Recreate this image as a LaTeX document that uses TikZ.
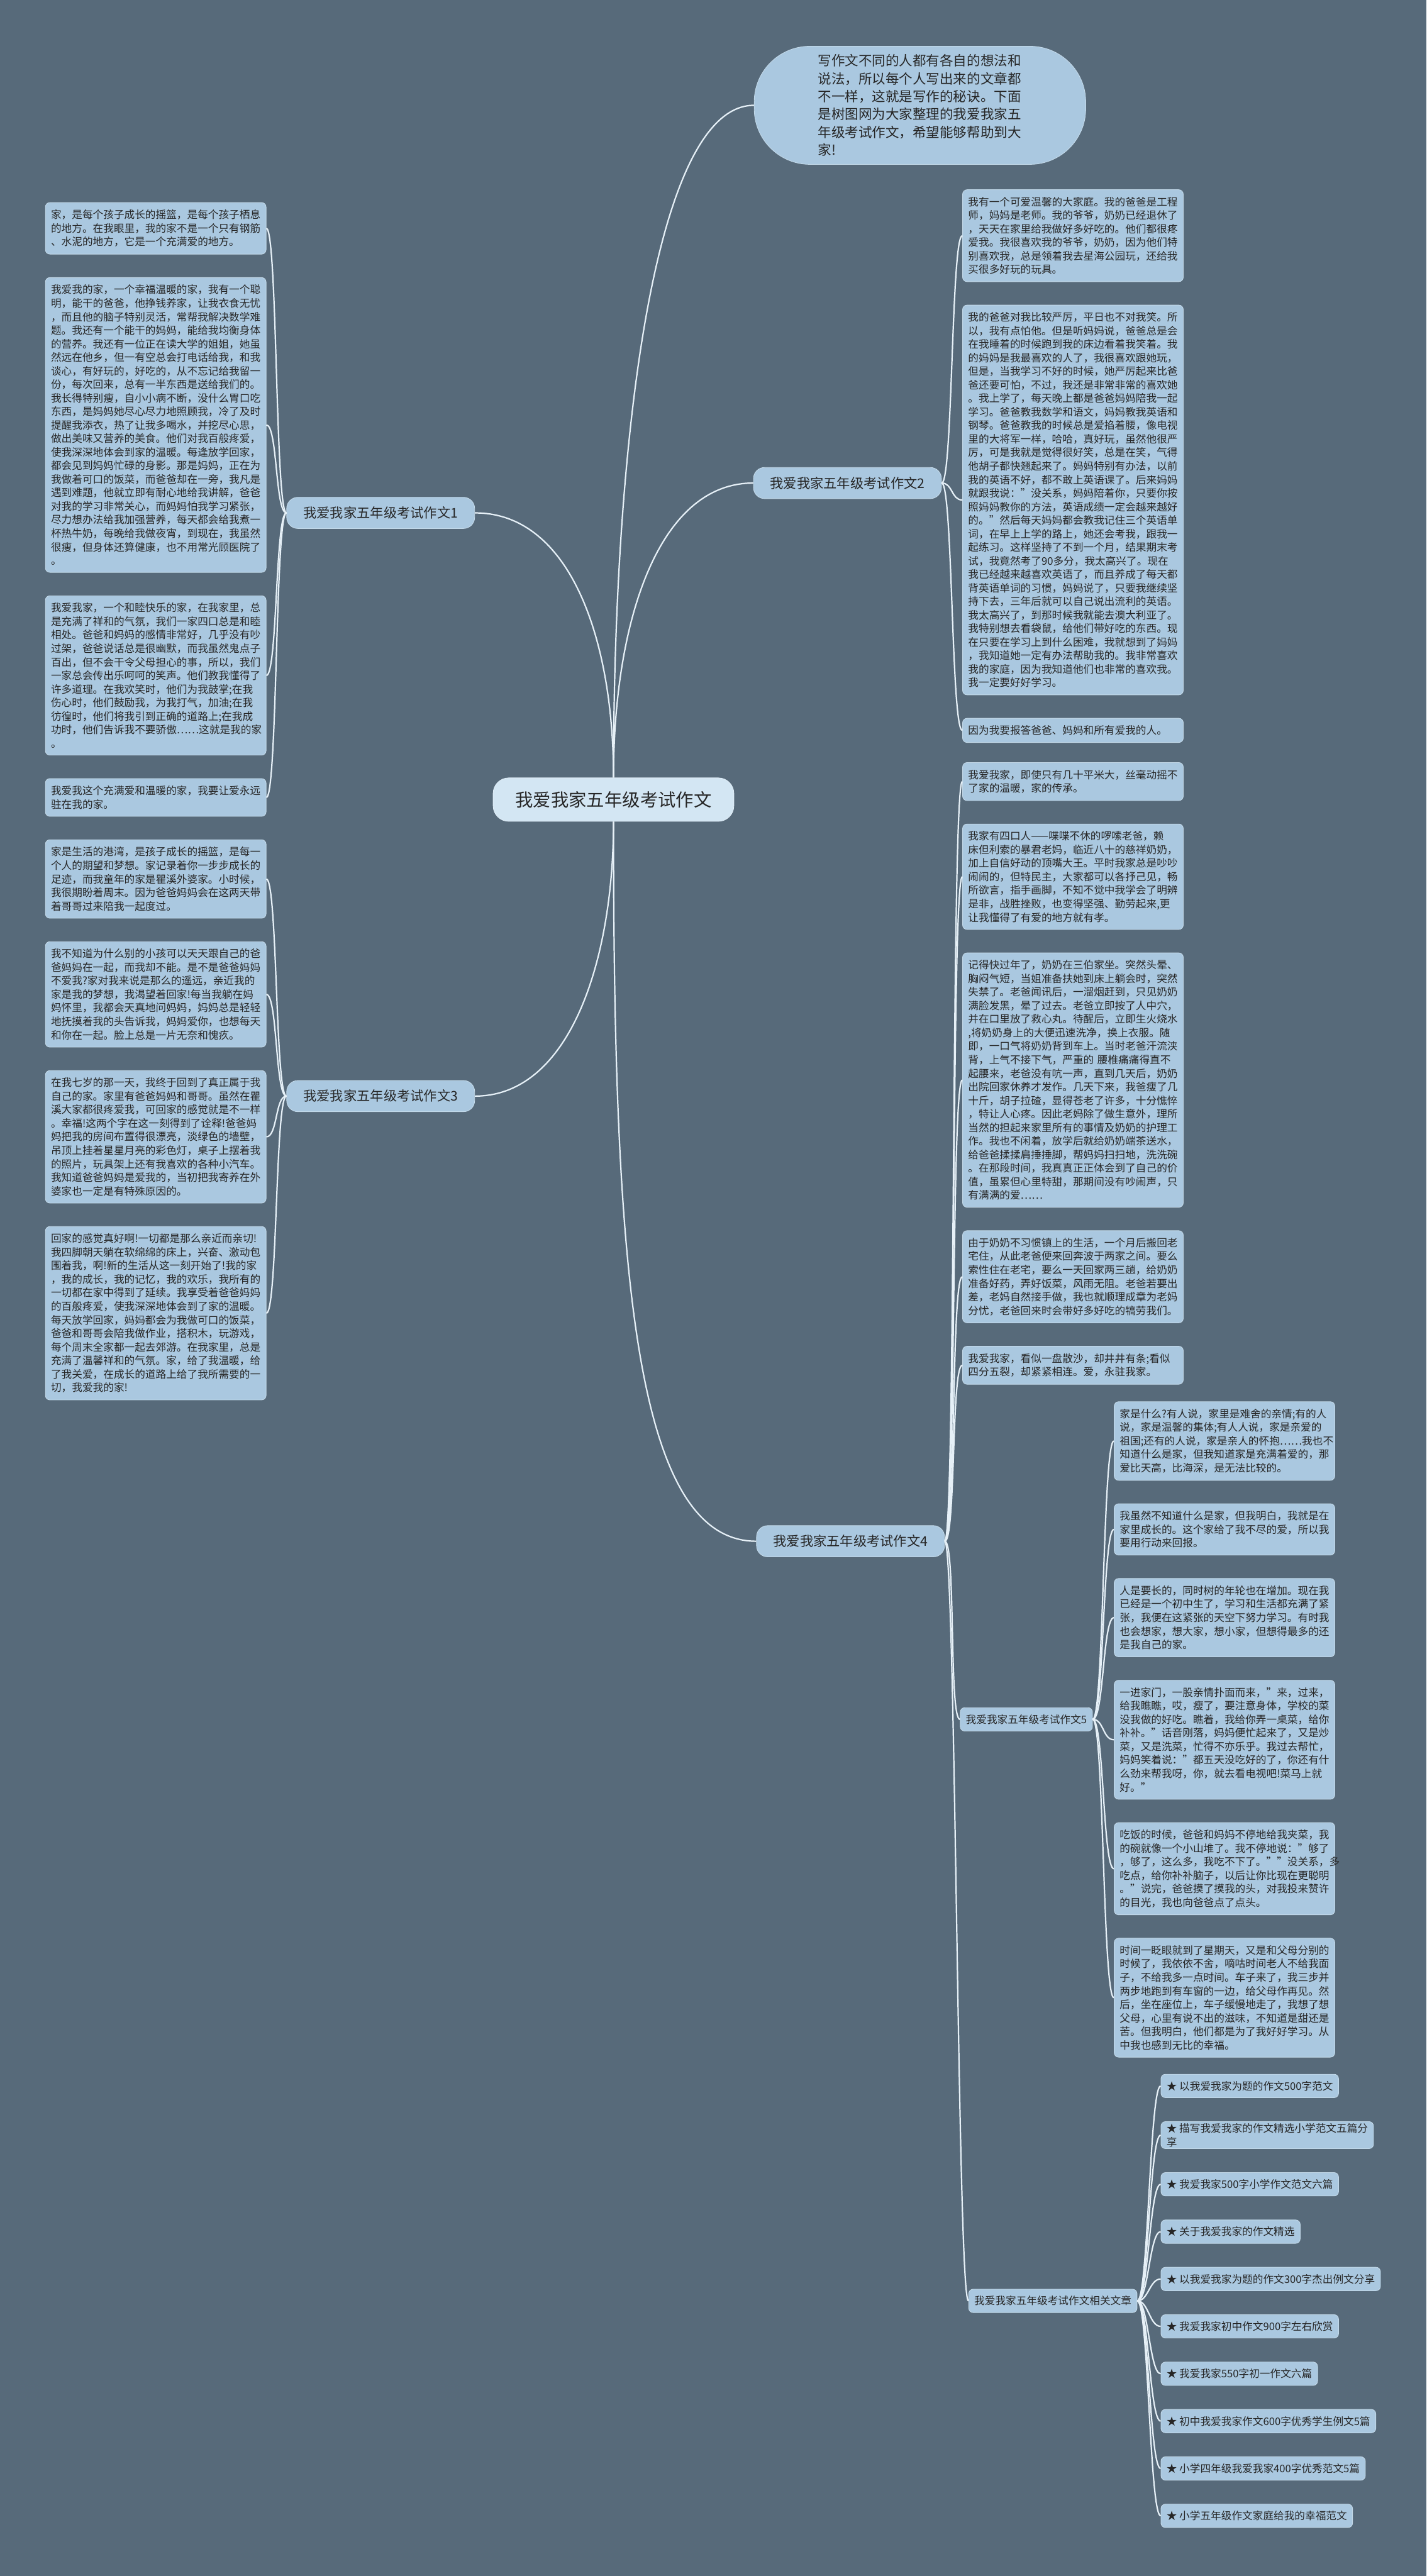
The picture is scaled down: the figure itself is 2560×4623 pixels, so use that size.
\documentclass[tikz,border=0pt]{standalone}
\usepackage{fontspec}
\setmainfont{Noto Sans CJK SC}
\usetikzlibrary{positioning,calc}
\definecolor{bgcol}{HTML}{576A7A}
\definecolor{boxcol}{HTML}{AAC8E0}
\definecolor{rootcol}{HTML}{D3E6F3}
\definecolor{linecol}{HTML}{E6F0F7}
\definecolor{txtcol}{HTML}{262626}

\begin{document}
\begin{tikzpicture}[x=1pt, y=1pt, conn/.style={draw=linecol, line width=2.5pt}]
  \tikzstyle{leaf}=[fill=boxcol, draw=boxcol!70!white, line width=1pt, rounded corners=8pt, text=txtcol, align=left, text width=376pt, inner xsep=10pt, inner ysep=13pt, font=\fontsize{18.8}{24.3}\selectfont]
  \tikzstyle{lbl}=[fill=boxcol, draw=boxcol!70!white, line width=1pt, rounded corners=20pt, text=txtcol, minimum height=56pt, inner xsep=30pt, font=\fontsize{24}{28}\selectfont]
  \tikzstyle{sub}=[fill=boxcol, draw=boxcol!70!white, line width=1pt, rounded corners=8pt, text=txtcol, minimum height=42pt, inner xsep=10pt, align=left, font=\fontsize{18.8}{24.3}\selectfont]
  \tikzstyle{root}=[fill=rootcol, draw=rootcol!70!white, line width=1pt, rounded corners=28pt, text=txtcol, minimum height=78pt, inner xsep=40pt, font=\fontsize{32}{36}\selectfont]
  \tikzstyle{intro}=[fill=boxcol, draw=boxcol!70!white, line width=1pt, rounded corners=100pt, text=txtcol, minimum width=595pt, minimum height=212pt, text width=366pt, align=left, font=\fontsize{24.3}{32}\selectfont]

  \fill[bgcol] (0,0) rectangle (2560,-4623);

  \node[root] (C) at (1101,-1435) {我爱我家五年级考试作文};
  \node[intro] (I) at (1651,-189) {写作文不同的人都有各自的想法和\\说法，所以每个人写出来的文章都\\不一样，这就是写作的秘诀。下面\\是树图网为大家整理的我爱我家五\\年级考试作文，希望能够帮助到大\\家!};

  \node[leaf, anchor=north west] (L1) at (81,-363) {家，是每个孩子成长的摇篮，是每个孩子栖息\\的地方。在我眼里，我的家不是一个只有钢筋\\、水泥的地方，它是一个充满爱的地方。};
  \node[leaf, below=41pt of L1] (L2) {我爱我的家，一个幸福温暖的家，我有一个聪\\明，能干的爸爸，他挣钱养家，让我衣食无忧\\，而且他的脑子特别灵活，常帮我解决数学难\\题。我还有一个能干的妈妈，能给我均衡身体\\的营养。我还有一位正在读大学的姐姐，她虽\\然远在他乡，但一有空总会打电话给我，和我\\谈心，有好玩的，好吃的，从不忘记给我留一\\份，每次回来，总有一半东西是送给我们的。\\我长得特别瘦，自小小病不断，没什么胃口吃\\东西，是妈妈她尽心尽力地照顾我，冷了及时\\提醒我添衣，热了让我多喝水，并挖尽心思，\\做出美味又营养的美食。他们对我百般疼爱，\\使我深深地体会到家的温暖。每逢放学回家，\\都会见到妈妈忙碌的身影。那是妈妈，正在为\\我做着可口的饭菜，而爸爸却在一旁，我凡是\\遇到难题，他就立即有耐心地给我讲解，爸爸\\对我的学习非常关心，而妈妈怕我学习紧张，\\尽力想办法给我加强营养，每天都会给我煮一\\杯热牛奶，每晚给我做夜宵，到现在，我虽然\\很瘦，但身体还算健康，也不用常光顾医院了\\。};
  \node[leaf, below=41pt of L2] (L3) {我爱我家，一个和睦快乐的家，在我家里，总\\是充满了祥和的气氛，我们一家四口总是和睦\\相处。爸爸和妈妈的感情非常好，几乎没有吵\\过架，爸爸说话总是很幽默，而我虽然鬼点子\\百出，但不会干令父母担心的事，所以，我们\\一家总会传出乐呵呵的笑声。他们教我懂得了\\许多道理。在我欢笑时，他们为我鼓掌;在我\\伤心时，他们鼓励我，为我打气，加油;在我\\彷徨时，他们将我引到正确的道路上;在我成\\功时，他们告诉我不要骄傲……这就是我的家\\。};
  \node[leaf, below=41pt of L3] (L4) {我爱我这个充满爱和温暖的家，我要让爱永远\\驻在我的家。};
  \node[leaf, below=41pt of L4] (L5) {家是生活的港湾，是孩子成长的摇篮，是每一\\个人的期望和梦想。家记录着你一步步成长的\\足迹，而我童年的家是瞿溪外婆家。小时候，\\我很期盼着周末。因为爸爸妈妈会在这两天带\\着哥哥过来陪我一起度过。};
  \node[leaf, below=41pt of L5] (L6) {我不知道为什么别的小孩可以天天跟自己的爸\\爸妈妈在一起，而我却不能。是不是爸爸妈妈\\不爱我?家对我来说是那么的遥远，亲近我的\\家是我的梦想，我渴望着回家!每当我躺在妈\\妈怀里，我都会天真地问妈妈，妈妈总是轻轻\\地抚摸着我的头告诉我，妈妈爱你，也想每天\\和你在一起。脸上总是一片无奈和愧疚。};
  \node[leaf, below=41pt of L6] (L7) {在我七岁的那一天，我终于回到了真正属于我\\自己的家。家里有爸爸妈妈和哥哥。虽然在瞿\\溪大家都很疼爱我，可回家的感觉就是不一样\\。幸福!这两个字在这一刻得到了诠释!爸爸妈\\妈把我的房间布置得很漂亮，淡绿色的墙壁，\\吊顶上挂着星星月亮的彩色灯，桌子上摆着我\\的照片，玩具架上还有我喜欢的各种小汽车。\\我知道爸爸妈妈是爱我的，当初把我寄养在外\\婆家也一定是有特殊原因的。};
  \node[leaf, below=41pt of L7] (L8) {回家的感觉真好啊!一切都是那么亲近而亲切!\\我四脚朝天躺在软绵绵的床上，兴奋、激动包\\围着我，啊!新的生活从这一刻开始了!我的家\\，我的成长，我的记忆，我的欢乐，我所有的\\一切都在家中得到了延续。我享受着爸爸妈妈\\的百般疼爱，使我深深地体会到了家的温暖。\\每天放学回家，妈妈都会为我做可口的饭菜，\\爸爸和哥哥会陪我做作业，搭积木，玩游戏，\\每个周末全家都一起去郊游。在我家里，总是\\充满了温馨祥和的气氛。家，给了我温暖，给\\了我关爱，在成长的道路上给了我所需要的一\\切，我爱我的家!};

  \node[leaf, anchor=north west] (R1) at (1727,-340) {我有一个可爱温馨的大家庭。我的爸爸是工程\\师，妈妈是老师。我的爷爷，奶奶已经退休了\\，天天在家里给我做好多好吃的。他们都很疼\\爱我。我很喜欢我的爷爷，奶奶，因为他们特\\别喜欢我，总是领着我去星海公园玩，还给我\\买很多好玩的玩具。};
  \node[leaf, below=41pt of R1] (R2) {我的爸爸对我比较严厉，平日也不对我笑。所\\以，我有点怕他。但是听妈妈说，爸爸总是会\\在我睡着的时候跑到我的床边看着我笑着。我\\的妈妈是我最喜欢的人了，我很喜欢跟她玩，\\但是，当我学习不好的时候，她严厉起来比爸\\爸还要可怕，不过，我还是非常非常的喜欢她\\。我上学了，每天晚上都是爸爸妈妈陪我一起\\学习。爸爸教我数学和语文，妈妈教我英语和\\钢琴。爸爸教我的时候总是爱掐着腰，像电视\\里的大将军一样，哈哈，真好玩，虽然他很严\\厉，可是我就是觉得很好笑，总是在笑，气得\\他胡子都快翘起来了。妈妈特别有办法，以前\\我的英语不好，都不敢上英语课了。后来妈妈\\就跟我说："没关系，妈妈陪着你，只要你按\\照妈妈教你的方法，英语成绩一定会越来越好\\的。"然后每天妈妈都会教我记住三个英语单\\词，在早上上学的路上，她还会考我，跟我一\\起练习。这样坚持了不到一个月，结果期末考\\试，我竟然考了90多分，我太高兴了。现在\\我已经越来越喜欢英语了，而且养成了每天都\\背英语单词的习惯，妈妈说了，只要我继续坚\\持下去，三年后就可以自己说出流利的英语。\\我太高兴了，到那时候我就能去澳大利亚了。\\我特别想去看袋鼠，给他们带好吃的东西。现\\在只要在学习上到什么困难，我就想到了妈妈\\，我知道她一定有办法帮助我的。我非常喜欢\\我的家庭，因为我知道他们也非常的喜欢我。\\我一定要好好学习。};
  \node[leaf, below=41pt of R2] (R3) {因为我要报答爸爸、妈妈和所有爱我的人。};

  \node[leaf, anchor=north west] (R4) at (1727,-1368) {我爱我家，即使只有几十平米大，丝毫动摇不\\了家的温暖，家的传承。};
  \node[leaf, below=41pt of R4] (R5) {我家有四口人——喋喋不休的啰嗦老爸，赖\\床但利索的暴君老妈，临近八十的慈祥奶奶，\\加上自信好动的顶嘴大王。平时我家总是吵吵\\闹闹的，但特民主，大家都可以各抒己见，畅\\所欲言，指手画脚，不知不觉中我学会了明辨\\是非，战胜挫败，也变得坚强、勤劳起来,更\\让我懂得了有爱的地方就有孝。};
  \node[leaf, below=41pt of R5] (R6) {记得快过年了，奶奶在三伯家坐。突然头晕、\\胸闷气短，当姐准备扶她到床上躺会时，突然\\失禁了。老爸闻讯后，一溜烟赶到，只见奶奶\\满脸发黑，晕了过去。老爸立即按了人中穴，\\并在口里放了救心丸。待醒后，立即生火烧水\\,将奶奶身上的大便迅速洗净，换上衣服。随\\即，一口气将奶奶背到车上。当时老爸汗流浃\\背，上气不接下气，严重的 腰椎痛痛得直不\\起腰来，老爸没有吭一声，直到几天后，奶奶\\出院回家休养才发作。几天下来，我爸瘦了几\\十斤，胡子拉碴，显得苍老了许多，十分憔悴\\，特让人心疼。因此老妈除了做生意外，理所\\当然的担起来家里所有的事情及奶奶的护理工\\作。我也不闲着，放学后就给奶奶端茶送水，\\给爸爸揉揉肩捶捶脚，帮妈妈扫扫地，洗洗碗\\。在那段时间，我真真正正体会到了自己的价\\值，虽累但心里特甜，那期间没有吵闹声，只\\有满满的爱……};
  \node[leaf, below=41pt of R6] (R7) {由于奶奶不习惯镇上的生活，一个月后搬回老\\宅住，从此老爸便来回奔波于两家之间。要么\\索性住在老宅，要么一天回家两三趟，给奶奶\\准备好药，弄好饭菜，风雨无阻。老爸若要出\\差，老妈自然接手做，我也就顺理成章为老妈\\分忧，老爸回来时会带好多好吃的犒劳我们。};
  \node[leaf, below=41pt of R7] (R8) {我爱我家，看似一盘散沙，却井井有条;看似\\四分五裂，却紧紧相连。爱，永驻我家。};

  \node[leaf, anchor=north west] (S1) at (1999,-2515) {家是什么?有人说，家里是难舍的亲情;有的人\\说，家是温馨的集体;有人人说，家是亲爱的\\祖国;还有的人说，家是亲人的怀抱……我也不\\知道什么是家，但我知道家是充满着爱的，那\\爱比天高，比海深，是无法比较的。};
  \node[leaf, below=41pt of S1] (S2) {我虽然不知道什么是家，但我明白，我就是在\\家里成长的。这个家给了我不尽的爱，所以我\\要用行动来回报。};
  \node[leaf, below=41pt of S2] (S3) {人是要长的，同时树的年轮也在增加。现在我\\已经是一个初中生了，学习和生活都充满了紧\\张，我便在这紧张的天空下努力学习。有时我\\也会想家，想大家，想小家，但想得最多的还\\是我自己的家。};
  \node[leaf, below=41pt of S3] (S4) {一进家门，一股亲情扑面而来，"来，过来，\\给我瞧瞧，哎，瘦了，要注意身体，学校的菜\\没我做的好吃。瞧着，我给你弄一桌菜，给你\\补补。"话音刚落，妈妈便忙起来了，又是炒\\菜，又是洗菜，忙得不亦乐乎。我过去帮忙，\\妈妈笑着说："都五天没吃好的了，你还有什\\么劲来帮我呀，你，就去看电视吧!菜马上就\\好。"};
  \node[leaf, below=41pt of S4] (S5) {吃饭的时候，爸爸和妈妈不停地给我夹菜，我\\的碗就像一个小山堆了。我不停地说："够了\\，够了，这么多，我吃不下了。""没关系，多\\吃点，给你补补脑子，以后让你比现在更聪明\\。"说完，爸爸摸了摸我的头，对我投来赞许\\的目光，我也向爸爸点了点头。};
  \node[leaf, below=41pt of S5] (S6) {时间一眨眼就到了星期天，又是和父母分别的\\时候了，我依依不舍，嘀咕时间老人不给我面\\子，不给我多一点时间。车子来了，我三步并\\两步地跑到有车窗的一边，给父母作再见。然\\后，坐在座位上，车子缓慢地走了，我想了想\\父母，心里有说不出的滋味，不知道是甜还是\\苦。但我明白，他们都是为了我好好学习。从\\中我也感到无比的幸福。};

  \node[sub, anchor=north west] (K1) at (2083,-3722) {★ 以我爱我家为题的作文500字范文};
  \node[sub, below=42pt of K1.south west, anchor=north west] (K2) {★ 描写我爱我家的作文精选小学范文五篇分\\享};
  \node[sub, below=42pt of K2.south west, anchor=north west] (K3) {★ 我爱我家500字小学作文范文六篇};
  \node[sub, below=42pt of K3.south west, anchor=north west] (K4) {★ 关于我爱我家的作文精选};
  \node[sub, below=42pt of K4.south west, anchor=north west] (K5) {★ 以我爱我家为题的作文300字杰出例文分享};
  \node[sub, below=42pt of K5.south west, anchor=north west] (K6) {★ 我爱我家初中作文900字左右欣赏};
  \node[sub, below=42pt of K6.south west, anchor=north west] (K7) {★ 我爱我家550字初一作文六篇};
  \node[sub, below=42pt of K7.south west, anchor=north west] (K8) {★ 初中我爱我家作文600字优秀学生例文5篇};
  \node[sub, below=42pt of K8.south west, anchor=north west] (K9) {★ 小学四年级我爱我家400字优秀范文5篇};
  \node[sub, below=42pt of K9.south west, anchor=north west] (K10) {★ 小学五年级作文家庭给我的幸福范文};

  \coordinate (m1) at ($(L1.east)!.5!(L4.east)$);
  \coordinate (m3) at ($(L5.east)!.5!(L8.east)$);
  \coordinate (m2) at ($(R1.west)!.5!(R3.west)$);
  \coordinate (m5) at ($(S1.west)!.5!(S6.west)$);
  \coordinate (m6) at ($(K1.west)!.5!(K10.west)$);
  \node[lbl, right=36pt of m1] (B1) {我爱我家五年级考试作文1};
  \node[lbl, right=36pt of m3] (B3) {我爱我家五年级考试作文3};
  \node[lbl, left=37pt of m2] (B2) {我爱我家五年级考试作文2};
  \node[sub, left=38pt of m5] (B5) {我爱我家五年级考试作文5};
  \node[sub, left=42pt of m6] (B6) {我爱我家五年级考试作文相关文章};
  \coordinate (m4) at ($(R4.west)!.5!(B6.west)$);
  \node[lbl, left=37pt of m4] (B4) {我爱我家五年级考试作文4};

  \draw[conn] (C.north) .. controls ($(C.north)+(0,600)$) and ($(I.west)+(-180,0)$) .. (I.west);
  \draw[conn] (C.north) .. controls ($(C.north)+(0,250)$) and ($(B1.east)+(170,0)$) .. (B1.east);
  \draw[conn] (C.north) .. controls ($(C.north)+(0,280)$) and ($(B2.west)+(-170,0)$) .. (B2.west);
  \draw[conn] (C.south) .. controls ($(C.south)+(0,-250)$) and ($(B3.east)+(170,0)$) .. (B3.east);
  \draw[conn] (C.south) .. controls ($(C.south)+(0,-800)$) and ($(B4.west)+(-220,0)$) .. (B4.west);

  \foreach \n in {L1,L2,L3,L4}
    \draw[conn] (B1.west) .. controls ($(B1.west)+(-20,0)$) and ($(\n.east)+(20,0)$) .. (\n.east);
  \foreach \n in {L5,L6,L7,L8}
    \draw[conn] (B3.west) .. controls ($(B3.west)+(-20,0)$) and ($(\n.east)+(20,0)$) .. (\n.east);
  \foreach \n in {R1,R2,R3}
    \draw[conn] (B2.east) .. controls ($(B2.east)+(20,0)$) and ($(\n.west)+(-20,0)$) .. (\n.west);
  \foreach \n in {R4,R5,R6,R7,R8,B5,B6}
    \draw[conn] (B4.east) .. controls ($(B4.east)+(20,0)$) and ($(\n.west)+(-20,0)$) .. (\n.west);
  \foreach \n in {S1,S2,S3,S4,S5,S6}
    \draw[conn] (B5.east) .. controls ($(B5.east)+(20,0)$) and ($(\n.west)+(-20,0)$) .. (\n.west);
  \foreach \n in {K1,K2,K3,K4,K5,K6,K7,K8,K9,K10}
    \draw[conn] (B6.east) .. controls ($(B6.east)+(20,0)$) and ($(\n.west)+(-20,0)$) .. (\n.west);
\end{tikzpicture}
\end{document}
